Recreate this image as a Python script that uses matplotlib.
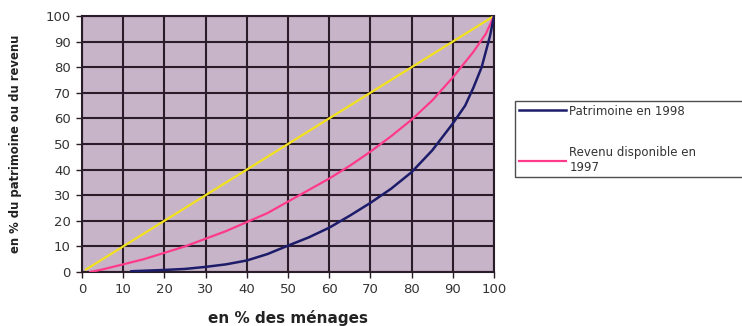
import matplotlib
matplotlib.use("Agg")
import matplotlib.pyplot as plt

# Data
x_equal = [1, 100]
y_equal = [1, 100]

x_revenu = [2, 5, 10, 15, 20, 25, 30, 35, 40, 45, 50, 55, 60, 65, 70, 75, 80, 85, 90, 95, 98, 100]
y_revenu = [0, 1, 3, 5, 7.5, 10, 13, 16, 19.5, 23, 27.5, 32, 36.5, 41.5, 47, 53, 59.5, 67, 76, 86, 93, 100]

x_patrimoine = [12, 20, 25, 30, 35, 40, 45, 50, 55, 60, 65, 70, 75, 80, 85, 90, 93, 95, 97, 98, 99, 100]
y_patrimoine = [0.3, 0.8, 1.2, 2, 3, 4.5, 7, 10.3, 13.5, 17.3, 22, 27, 32.5, 39, 47.5, 58, 65, 72, 80, 86, 92, 100]

ticks = [0, 10, 20, 30, 40, 50, 60, 70, 80, 90, 100]

fig = plt.figure(figsize=(7.42, 3.26), dpi=100)
ax = fig.add_axes([82 / 742, 54 / 326, (494 - 82) / 742, (272 - 16) / 326])
ax.set_facecolor("#c8b4c8")

ax.plot(x_equal, y_equal, color="#f2e21e", lw=1.6, zorder=3)
l_rev, = ax.plot(x_revenu, y_revenu, color="#ff3a8a", lw=1.6, zorder=3)
l_pat, = ax.plot(x_patrimoine, y_patrimoine, color="#1c1c6a", lw=1.8, zorder=3)

ax.set_xlim(0, 100)
ax.set_ylim(0, 100)
ax.set_xticks(ticks)
ax.set_yticks(ticks)
ax.grid(True, color="#2a1c28", lw=1.5, zorder=1)
ax.set_axisbelow(True)
for s in ax.spines.values():
    s.set_color("#2a1c28")
    s.set_linewidth(1.5)
ax.tick_params(direction="out", length=4, width=1, color="#2a1c28",
               labelsize=9.5, labelcolor="#333333", pad=4)
for lab in ax.get_xticklabels() + ax.get_yticklabels():
    lab.set_fontfamily("DejaVu Sans")

ax.set_xlabel("en % des ménages", fontsize=11, fontweight="bold",
              color="#222222", labelpad=10)
ax.set_ylabel("en % du patrimoine ou du revenu", fontsize=8.4, fontweight="bold",
              color="#222222", labelpad=17)

leg = fig.legend([l_pat, l_rev], ["Patrimoine en 1998", "Revenu disponible en\n1997"],
                 loc="upper left",
                 bbox_to_anchor=(515 / 742, 1 - 177 / 326, 260 / 742, 76 / 326),
                 bbox_transform=fig.transFigure, mode="expand",
                 fontsize=8.5, frameon=True,
                 fancybox=False, edgecolor="#222222", borderpad=0.3,
                 labelspacing=2.4, handlelength=4, handletextpad=0.3,
                 borderaxespad=0)
leg.get_frame().set_linewidth(1.0)
for t in leg.get_texts():
    t.set_color("#333333")

fig.savefig("out.png", dpi=100)
